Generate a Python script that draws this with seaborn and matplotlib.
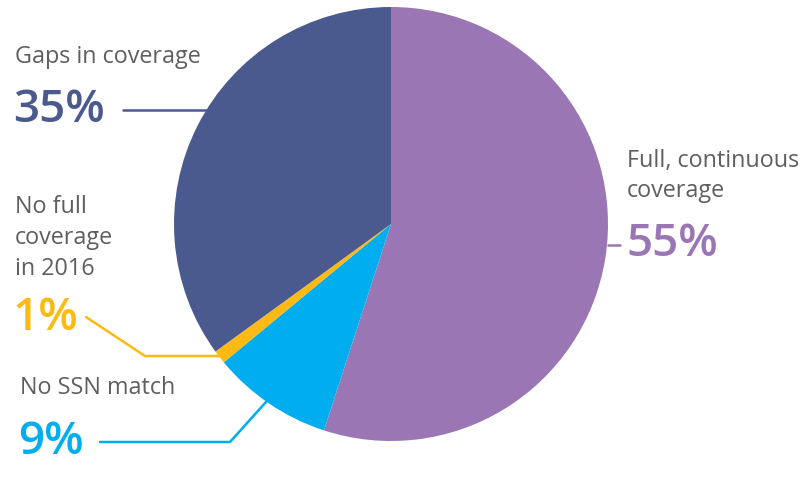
import matplotlib
matplotlib.use("Agg")
import matplotlib.pyplot as plt
import seaborn as sns

categories = ["Full, continuous\ncoverage", "No SSN match", "No full\ncoverage\nin 2016", "Gaps in coverage"]
values = [55, 9, 1, 35]
pct_labels = ["55%", "9%", "1%", "35%"]
colors = ["#9B76B4", "#00AEEF", "#FDBA12", "#4A5A8E"]

sns.set_theme(style="white")
plt.rcParams['font.family'] = ['Open Sans', 'DejaVu Sans']

W, H = 809, 483
fig = plt.figure(figsize=(W / 100, H / 100), dpi=100)
ax = fig.add_axes([0, 0, 1, 1])

def Y(py):
    return H - py

cx, cy, r = 391, 224, 217
palette = sns.color_palette(colors)
ax.pie(values, colors=palette, startangle=90, counterclock=False,
       center=(cx, Y(cy)), radius=r, frame=True,
       wedgeprops=dict(linewidth=0))
ax.set_xlim(0, W)
ax.set_ylim(0, H)
ax.set_aspect("equal")
ax.axis("off")

gray = "#5f5f5f"
lab_fs = 16.8
pct_fs = 33

label_pos = {
    0: (627, 176),
    1: (20, 388),
    2: (15, 238),
    3: (15, 57),
}
pct_pos = {
    0: (626, 245),
    1: (18, 442),
    2: (13, 318),
    3: (13, 110),
}
for i, cat in enumerate(categories):
    lx, ly = label_pos[i]
    ax.text(lx, Y(ly), cat, ha="left", va="center", fontsize=lab_fs,
            color=gray, linespacing=1.38)
    px, py = pct_pos[i]
    ax.text(px, Y(py), pct_labels[i], ha="left", va="center", fontsize=pct_fs,
            color=colors[i], fontweight="semibold")

lw = 1.8
ax.plot([608, 620], [Y(245), Y(245)], color=colors[0], lw=lw)
ax.plot([100, 230, 266], [Y(442), Y(442), Y(402)], color=colors[1], lw=lw)
ax.plot([86, 145, 220], [Y(317), Y(356), Y(356)], color=colors[2], lw=lw)
ax.plot([123, 210], [Y(110), Y(110)], color=colors[3], lw=lw)

fig.savefig("out.png", dpi=100, facecolor="white")
